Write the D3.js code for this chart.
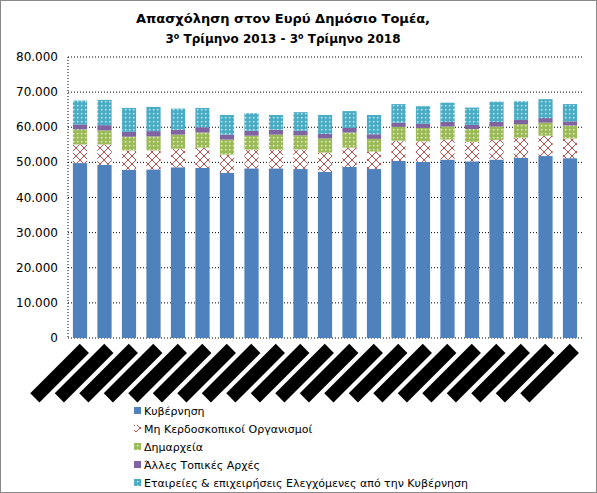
<!DOCTYPE html><html><head><meta charset="utf-8"><script src="https://cdn.jsdelivr.net/npm/d3@7"></script>
<style>body{margin:0;background:#fff}text{font-family:"DejaVu Sans",Tahoma,sans-serif}</style></head><body><svg id="c" width="597" height="493"></svg>
<script>
const categories=["3ο Τρ. 2013","4ο Τρ. 2013","1ο Τρ. 2014","2ο Τρ. 2014","3ο Τρ. 2014","4ο Τρ. 2014","1ο Τρ. 2015","2ο Τρ. 2015","3ο Τρ. 2015","4ο Τρ. 2015","1ο Τρ. 2016","2ο Τρ. 2016","3ο Τρ. 2016","4ο Τρ. 2016","1ο Τρ. 2017","2ο Τρ. 2017","3ο Τρ. 2017","4ο Τρ. 2017","1ο Τρ. 2018","2ο Τρ. 2018","3ο Τρ. 2018"];
const gov=[49800,49300,47900,48000,48600,48400,47000,48300,48300,48100,47300,48700,48100,50400,50100,50800,50300,50800,51300,51800,51200];
const nonprofit=[5300,5800,5500,5400,5300,5800,5200,5300,5300,5600,5500,5500,5000,5800,5900,5700,5500,5600,5700,5800,5600];
const municipal=[4300,4000,3900,4000,4000,4300,4300,4000,4300,4000,4000,4300,3600,3900,3800,3700,3700,3800,3900,3700,3700];
const otherLocal=[1400,1500,1400,1500,1400,1500,1400,1400,1400,1300,1300,1300,1300,1200,1200,1300,1200,1300,1200,1300,1200];
const companies=[6800,7200,6800,6900,6000,5500,5600,5000,4200,5300,5400,4800,5500,5300,5000,5500,4900,5800,5300,5400,4900];
const seriesNames=["Κυβέρνηση","Μη Κερδοσκοπικοί Οργανισμοί","Δημαρχεία","Άλλες Τοπικές Αρχές","Εταιρείες & επιχειρήσεις Ελεγχόμενες από την Κυβέρνηση"];
const yTicks=[0,10000,20000,30000,40000,50000,60000,70000,80000];
const svg=d3.select("#c");
svg.append("rect").attr("x",0.5).attr("y",0.5).attr("width",596).attr("height",492).attr("fill","#fff").attr("stroke","#888");
const defs=svg.append("defs");
const p1=defs.append("pattern").attr("id","np").attr("width",8).attr("height",8).attr("patternUnits","userSpaceOnUse");
p1.append("rect").attr("width",8).attr("height",8).attr("fill","#fff");
p1.append("path").attr("d","M0,0L8,8M8,0L0,8").attr("stroke","#c0504d").attr("stroke-width",1);
function dots(id,col){const p=defs.append("pattern").attr("id",id).attr("width",4).attr("height",4).attr("patternUnits","userSpaceOnUse");
p.append("rect").attr("width",4).attr("height",4).attr("fill",col);p.append("rect").attr("x",1).attr("y",1).attr("width",1.3).attr("height",1.3).attr("fill","#fff");}
dots("dm","#9bbb59");dots("co","#4bacc6");
const fills=["#4f81bd","url(#np)","url(#dm)","#8064a2","url(#co)"];
const x=d3.scaleBand().domain(categories).range([68,582]).paddingInner(0.42).paddingOuter(0.2);
const y=d3.scaleLinear().domain([0,80000]).range([338,57]);
const g=svg.append("g");
g.selectAll("line.gr").data(yTicks).join("line").attr("x1",68).attr("x2",582).attr("y1",d=>y(d)).attr("y2",d=>y(d)).attr("stroke","#000").attr("stroke-dasharray","1,2");
g.append("line").attr("x1",68).attr("x2",68).attr("y1",57).attr("y2",338).attr("stroke","#000").attr("stroke-dasharray","1,2");
g.selectAll("text.yt").data(yTicks).join("text").attr("x",58).attr("y",d=>y(d)+4).attr("text-anchor","end").attr("font-size",12).text(d=>d===0?"0":(d/1000)+".000");
const data=categories.map((c,i)=>({c,v:[gov[i],nonprofit[i],municipal[i],otherLocal[i],companies[i]]}));
const stack=d3.stack().keys([0,1,2,3,4]).value((d,k)=>d.v[k])(data);
stack.forEach((s,k)=>g.selectAll(null).data(s).join("rect").attr("x",d=>x(d.data.c)).attr("width",x.bandwidth()).attr("y",d=>y(d[1])).attr("height",d=>y(d[0])-y(d[1])).attr("fill",fills[k]));
categories.forEach(c=>{const cx=x(c)+x.bandwidth()/2;
g.append("g").attr("transform",`translate(${cx+4},${348}) rotate(-45)`).append("rect").attr("x",-70).attr("y",-6).attr("width",70).attr("height",13).attr("fill","#000");});
svg.append("text").attr("x",283).attr("y",23).attr("text-anchor","middle").attr("font-weight","bold").attr("font-size",13).text("Απασχόληση στον Ευρύ Δημόσιο Τομέα,");
const t2=svg.append("text").attr("x",283).attr("y",43).attr("text-anchor","middle").attr("font-weight","bold").attr("font-size",12);
t2.append("tspan").text("3");t2.append("tspan").attr("font-size",8).attr("dy",-4).text("ο");t2.append("tspan").attr("dy",4).text(" Τρίμηνο  2013 - 3");t2.append("tspan").attr("font-size",8).attr("dy",-4).text("ο");t2.append("tspan").attr("dy",4).text(" Τρίμηνο  2018");
const leg=svg.append("g");
seriesNames.forEach((n,i)=>{const yy=411+i*18;leg.append("rect").attr("x",134).attr("y",yy-4).attr("width",7).attr("height",7).attr("fill",fills[i]);
leg.append("text").attr("x",144).attr("y",yy+4).attr("font-size",11).text(n);});
</script></body></html>
